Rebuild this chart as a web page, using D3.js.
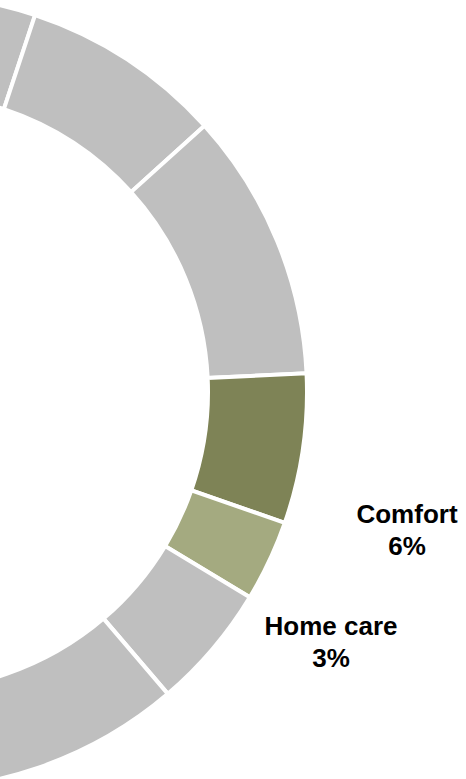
<!DOCTYPE html>
<html>
<head>
<meta charset="utf-8">
<script src="https://cdn.jsdelivr.net/npm/d3@7/dist/d3.min.js"></script>
<style>
  html, body { margin: 0; padding: 0; background: #fff; }
  svg { display: block; }
</style>
</head>
<body>
<svg id="chart" width="466" height="779"></svg>
<script>
// Share of spending by category (percent of total)
const categories = ["Other A", "Other B", "Other C", "Comfort", "Home care", "Other D", "Other E", "Other F", "Other G"];
const shares = [5.1, 8.2, 10.95, 6.1, 3.3, 5.1, 12, 21, 28.25];
// Categories that carry a data label
const labelled = ["Comfort", "Home care"];

const colorFor = name => name === "Comfort" ? "#7e8356"
                       : name === "Home care" ? "#a4aa80"
                       : "#bfbfbf";

const width = 466, height = 779;
const cx = -90, cy = 392;
const outerR = 397, innerR = 298;

// Label anchors (centre of the text block) for the labelled slices
const labelAnchor = {
  "Comfort":   { x: 407, y: 523 },
  "Home care": { x: 331, y: 635 }
};

const svg = d3.select("#chart");
const g = svg.append("g").attr("transform", `translate(${cx},${cy})`);

const data = categories.map((c, i) => ({ category: c, value: shares[i] }));

const pie = d3.pie().sort(null).value(d => d.value);
const arc = d3.arc().innerRadius(innerR).outerRadius(outerR);

g.selectAll("path.slice")
  .data(pie(data))
  .join("path")
  .attr("class", "slice")
  .attr("d", arc)
  .attr("fill", d => colorFor(d.data.category))
  .attr("stroke", "#ffffff")
  .attr("stroke-width", 4)
  .attr("stroke-linejoin", "miter");

const fmt = d3.format(".0f");
const labels = svg.append("g")
  .attr("font-family", "'Liberation Sans', Arial, sans-serif")
  .attr("font-weight", "bold")
  .attr("font-size", 26)
  .attr("fill", "#000")
  .attr("text-anchor", "middle");

data.filter(d => labelled.includes(d.category)).forEach(d => {
  const a = labelAnchor[d.category];
  const t = labels.append("text").attr("x", a.x).attr("y", a.y);
  t.append("tspan").attr("x", a.x).text(d.category);
  t.append("tspan").attr("x", a.x).attr("dy", 32).text(fmt(d.value) + "%");
});
</script>
</body>
</html>
